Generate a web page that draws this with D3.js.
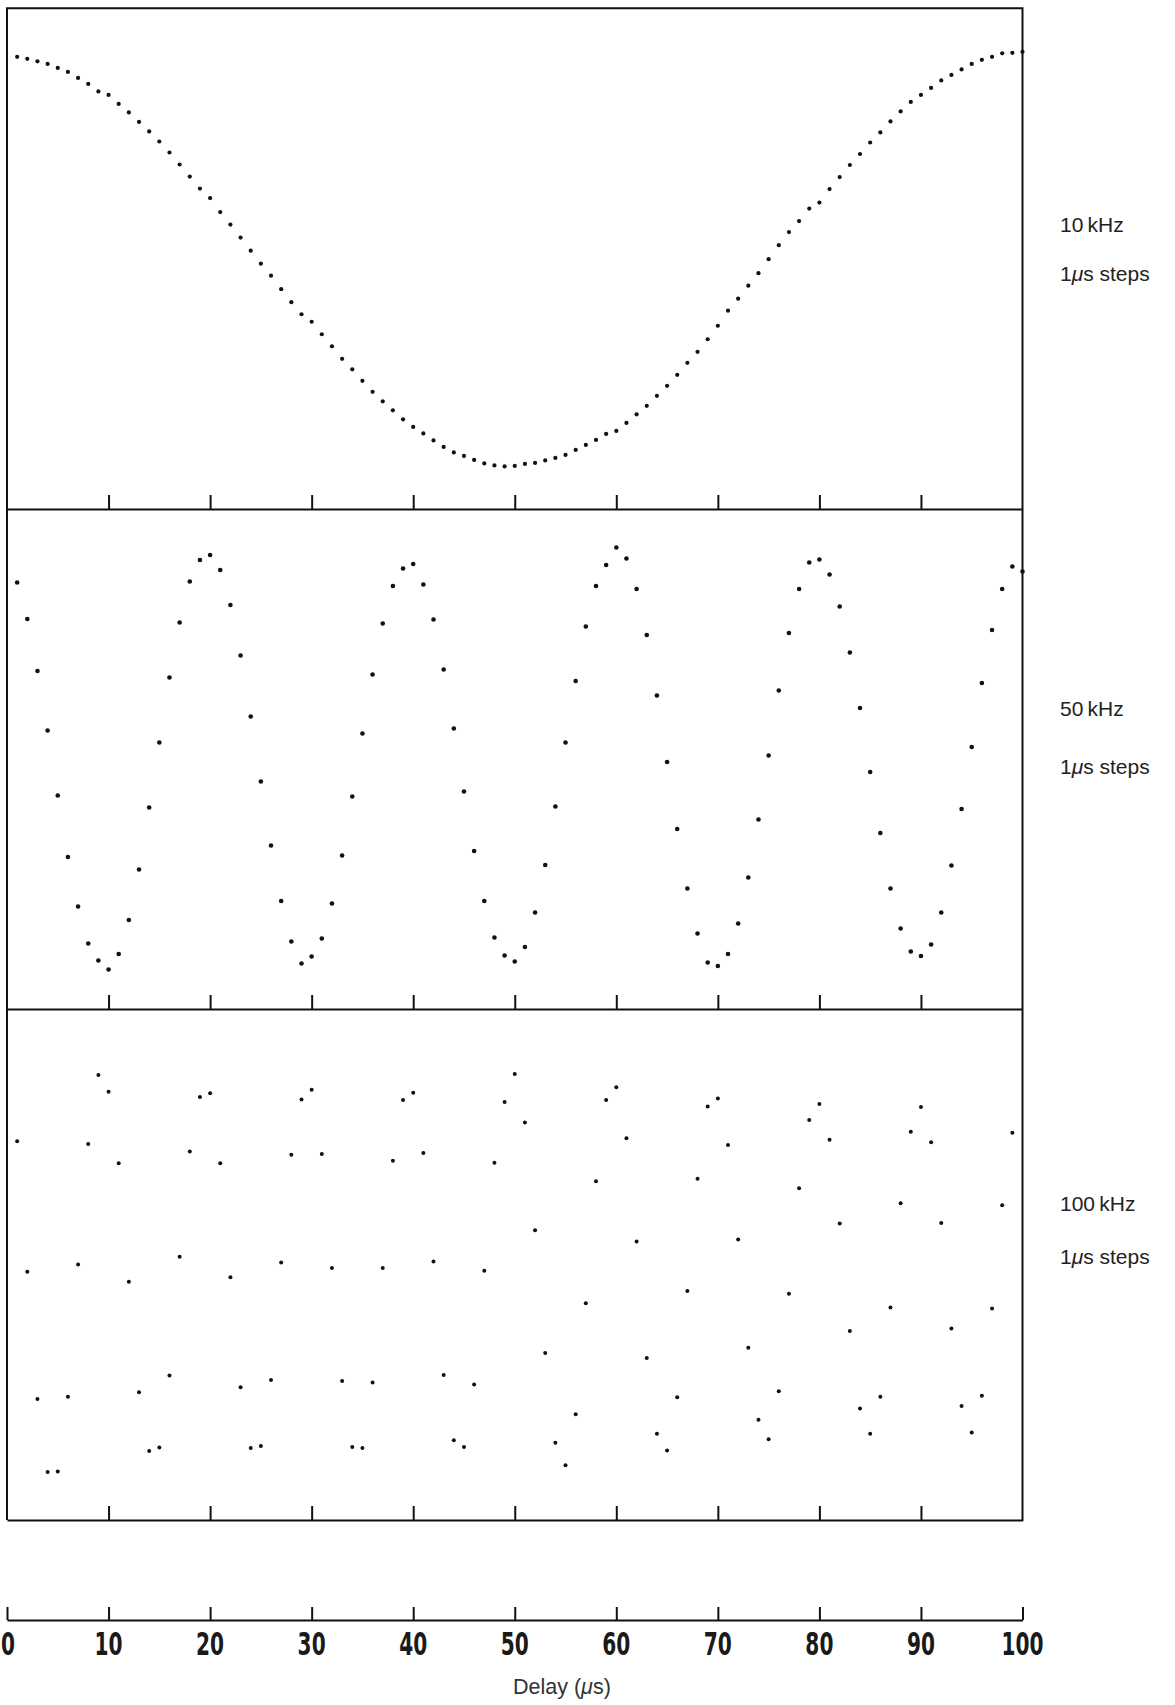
<!DOCTYPE html>
<html><head><meta charset="utf-8">
<script src="https://cdn.jsdelivr.net/npm/d3@7"></script>
<style>html,body{margin:0;padding:0;background:#fff;} svg{display:block;}</style>
</head><body>
<svg id="chart" width="1175" height="1705"></svg>
<script>
// ---------- data ----------
const axisTicks = [0, 10, 20, 30, 40, 50, 60, 70, 80, 90, 100];
const axisTickLabels = ["0", "10", "20", "30", "40", "50", "60", "70", "80", "90", "100"];
const panelTicks = [10, 20, 30, 40, 50, 60, 70, 80, 90];
const panelFreqs = ["10\u2009kHz", "50\u2009kHz", "100\u2009kHz"];
const panelSteps = ["1", "\u03bc", "s steps"];

const delays10k = d3.range(1, 101);
const signal10k = [90.3, 89.9, 89.4, 88.9, 88.1, 87.3, 86.1, 84.9, 83.4, 82.7,
  80.9, 79.2, 77.3, 75.4, 73.4, 71.2, 68.8, 66.4, 64.0, 62.1,
  59.3, 56.8, 54.2, 51.6, 49.0, 46.6, 43.9, 41.3, 38.9, 37.4,
  34.9, 32.5, 30.0, 27.9, 25.6, 23.4, 21.5, 19.7, 17.9, 16.4,
  15.1, 13.7, 12.4, 11.3, 10.6, 9.8, 9.1, 8.7, 8.5, 8.6,
  9.0, 9.2, 9.7, 10.2, 10.8, 11.8, 12.8, 13.8, 15.0, 15.6,
  17.2, 18.9, 20.6, 22.6, 24.6, 26.8, 29.2, 31.4, 33.9, 36.6,
  39.6, 42.0, 44.6, 47.1, 49.9, 52.7, 55.3, 57.5, 60.0, 61.2,
  63.9, 66.3, 68.7, 70.9, 73.2, 75.2, 77.4, 79.4, 81.3, 82.7,
  84.1, 85.6, 86.7, 87.8, 88.9, 89.7, 90.3, 91.0, 91.1, 91.3];

const delays50k = d3.range(1, 101);
const signal50k = [85.3, 78.0, 67.6, 55.7, 42.7, 30.4, 20.5, 13.1, 9.7, 7.9,
  11.0, 17.8, 27.9, 40.3, 53.3, 66.3, 77.3, 85.5, 89.8, 90.8,
  87.8, 80.8, 70.7, 58.5, 45.5, 32.7, 21.6, 13.5, 9.1, 10.5,
  14.1, 21.1, 30.7, 42.5, 55.1, 66.9, 77.1, 84.6, 88.1, 89.0,
  84.9, 77.9, 67.9, 56.1, 43.5, 31.6, 21.6, 14.3, 10.7, 9.5,
  12.4, 19.3, 28.8, 40.5, 53.3, 65.6, 76.5, 84.6, 88.8, 92.3,
  90.1, 84.0, 74.8, 62.7, 49.4, 36.0, 24.1, 15.1, 9.3, 8.6,
  11.0, 17.1, 26.3, 37.9, 50.7, 63.7, 75.2, 84.0, 89.3, 89.9,
  86.9, 80.5, 71.3, 60.2, 47.4, 35.2, 24.1, 16.1, 11.5, 10.6,
  12.9, 19.3, 28.7, 40.0, 52.4, 65.2, 75.8, 84.0, 88.5, 87.5];

const delays100k = d3.range(1, 100);
const signal100k = [74.1, 48.6, 23.7, 9.4, 9.5, 24.1, 50.0, 73.6, 87.1, 83.8,
  69.8, 46.6, 25.0, 13.5, 14.2, 28.3, 51.5, 72.1, 82.8, 83.5,
  69.8, 47.5, 26.0, 14.1, 14.5, 27.4, 50.4, 71.5, 82.3, 84.2,
  71.6, 49.3, 27.2, 14.3, 14.1, 26.9, 49.3, 70.3, 82.2, 83.6,
  71.8, 50.6, 28.4, 15.6, 14.3, 26.5, 48.8, 69.9, 81.8, 87.3,
  77.8, 56.7, 32.7, 15.1, 10.7, 20.7, 42.4, 66.3, 82.2, 84.7,
  74.7, 54.5, 31.7, 16.9, 13.6, 24.0, 44.8, 66.8, 80.9, 82.5,
  73.4, 54.9, 33.7, 19.6, 15.8, 25.2, 44.3, 64.9, 78.3, 81.4,
  74.4, 58.0, 37.0, 21.8, 16.9, 24.1, 41.6, 62.0, 76.0, 80.8,
  73.9, 58.1, 37.5, 22.3, 17.1, 24.3, 41.4, 61.6, 75.8];

// ---------- layout ----------
const svg = d3.select("#chart");
const X0 = 7, X1 = 1022.5;
const x = d3.scaleLinear().domain([0, 100]).range([X0, X1]);
const INK = "#111";

const panels = [
  {delays: delays10k, values: signal10k, top: 8.3, bottom: 509, r: 2.1, freq: panelFreqs[0], yF: 232, yS: 281},
  {delays: delays50k, values: signal50k, top: 509, bottom: 1009, r: 2.3, freq: panelFreqs[1], yF: 716, yS: 774},
  {delays: delays100k, values: signal100k, top: 1009, bottom: 1520, r: 2.0, freq: panelFreqs[2], yF: 1211, yS: 1264}
];

// outer frame (left, top, right)
svg.append("path")
  .attr("d", `M${X0},1520 V8.3 H${X1} V1521`)
  .attr("fill", "none").attr("stroke", INK).attr("stroke-width", 2);

panels.forEach(p => {
  const y = d3.scaleLinear().domain([0, 100]).range([p.bottom, p.top]);
  const ax = svg.append("g").attr("transform", `translate(0,${p.bottom})`)
    .call(d3.axisTop(x).tickValues(panelTicks).tickSize(14).tickSizeOuter(0).tickFormat(""));
  ax.select(".domain").attr("stroke", INK).attr("stroke-width", 2);
  ax.selectAll(".tick line").attr("stroke", INK).attr("stroke-width", 2);

  svg.append("g").selectAll("circle")
    .data(p.delays.map((d, i) => ({d, v: p.values[i]})))
    .join("circle")
    .attr("cx", d => x(d.d))
    .attr("cy", d => y(d.v))
    .attr("r", p.r)
    .attr("fill", INK);

  const lab = svg.append("g").attr("font-family", "'Liberation Sans', Arial, sans-serif")
    .attr("font-size", 21).attr("fill", "#222");
  lab.append("text").attr("x", 1060).attr("y", p.yF).text(p.freq);
  const t = lab.append("text").attr("x", 1060).attr("y", p.yS);
  t.append("tspan").text(panelSteps[0]);
  t.append("tspan").attr("font-style", "italic").text(panelSteps[1]);
  t.append("tspan").text(panelSteps[2]);
});

// separate scale
const AY = 1620;
const sep = svg.append("g").attr("transform", `translate(0,${AY})`)
  .call(d3.axisTop(x).tickValues(axisTicks).tickSize(13).tickSizeOuter(0).tickFormat(""));
sep.select(".domain").attr("stroke", INK).attr("stroke-width", 2);
sep.selectAll(".tick line").attr("stroke", INK).attr("stroke-width", 2);

svg.append("g").selectAll("text")
  .data(axisTicks)
  .join("text")
  .attr("transform", d => `translate(${x(d) + (d === 0 ? 1 : 0)},1655) scale(0.63,1)`)
  .attr("text-anchor", "middle")
  .attr("font-family", "'DejaVu Sans', sans-serif")
  .attr("font-weight", "bold")
  .attr("font-size", 32)
  .attr("fill", "#1a1a1a")
  .text((d, i) => axisTickLabels[i]);

const title = svg.append("text").attr("x", 513).attr("y", 1694)
  .attr("font-family", "'Liberation Sans', Arial, sans-serif")
  .attr("font-size", 21.5).attr("fill", "#333");
title.append("tspan").text("Delay (");
title.append("tspan").attr("font-style", "italic").text("\u03bc");
title.append("tspan").text("s)");
</script>
</body></html>
